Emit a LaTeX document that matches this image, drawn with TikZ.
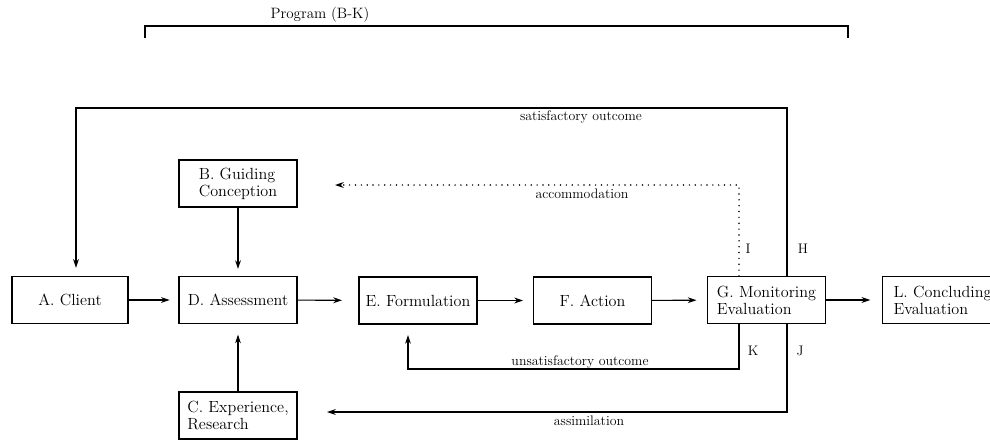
\documentclass[tikz,border=0pt]{standalone}
\usetikzlibrary{arrows.meta,calc}
\begin{document}
\begin{tikzpicture}[x=0.03cm,y=-0.03cm]
\tikzset{
 box/.style={draw, line width=0.9pt, minimum width=3.54cm, minimum height=1.41cm, inner sep=0pt, font=\fontsize{13.8}{14.5}\selectfont, align=left},
 conn/.style={line width=0.9pt, -{Stealth[length=7.5pt,width=5pt]}},
 plain/.style={line width=0.9pt},
 dots/.style={line width=1.4pt, line cap=round, dash pattern=on 0pt off 5pt, -{Stealth[length=7.5pt,width=5pt]}},
 lbl/.style={font=\fontsize{11.8}{12.5}\selectfont, inner sep=0pt},
}
\useasboundingbox (0,0) rectangle (990,443);
% bracket
\node[font=\fontsize{12.8}{13.5}\selectfont, inner sep=0pt] (prog) at (320,15) {Program (B-K)};
\coordinate (p1) at (145,38);
\coordinate (p2) at (145,26);
\coordinate (p3) at (848,26);
\coordinate (p4) at (848,38);
\draw[plain] (p1) -- (p2) -- (p3) -- (p4);
% boxes
\node[box, minimum width=3.48cm] (A) at (70,300) {A. Client};
\node[box] (B) at (238,183.5) {B. Guiding\\Conception};
\node[box] (C) at (238,415.5) {C. Experience,\\Research};
\node[box] (D) at (238,300) {D. Assessment};
\node[box] (E) at (418,300.5) {E. Formulation};
\node[box] (F) at (592.5,300.5) {F. Action};
\node[box] (G) at (766.5,300) {G. Monitoring\\Evaluation};
\node[box, minimum width=0pt, inner xsep=0.33cm, text width=3.6cm, anchor=west] (L) at (882,300) {L. Concluding\\Evaluation};
% main flow
\draw[conn, shorten >=7.5pt] (A) -- (D);
\draw[conn, shorten >=14pt] (D) -- (E);
\draw[conn, shorten >=8.5pt] (E) -- (F);
\draw[conn, shorten >=9pt] (F) -- (G);
\draw[conn, shorten >=10pt] (G) -- (L);
\draw[conn, shorten >=6pt] (B) -- (D);
\draw[conn, shorten >=9pt] (C) -- (D);
% satisfactory outcome loop (H)
\coordinate (h1) at (787,108);
\coordinate (h2) at (76,108);
\draw[conn, shorten >=7pt] (G.north -| h1) -- (h1) -- (h2) -- (A.north -| h2);
\node[lbl] (sat) at (581,117) {satisfactory outcome};
% accommodation (I)
\coordinate (i1) at (739,185);
\coordinate (i2) at (335,185);
\draw[dots] (G.north -| i1) -- (i1) -- (i2);
\node[lbl] (acc) at (582,194) {accommodation};
% unsatisfactory outcome (K)
\coordinate (k1) at (739,369);
\coordinate (k2) at (408,369);
\draw[conn, shorten >=9pt] (G.south -| k1) -- (k1) -- (k2) -- (E.south -| k2);
\node[lbl] (uns) at (580,362) {unsatisfactory outcome};
% assimilation (J)
\coordinate (j1) at (787,412);
\coordinate (j2) at (327,412);
\draw[conn] (G.south -| j1) -- (j1) -- (j2);
\node[lbl] (asm) at (589,421) {assimilation};
% letters
\node[lbl] (lI) at (748,249) {I};
\node[lbl] (lH) at (803,249) {H};
\node[lbl] (lK) at (753,351) {K};
\node[lbl] (lJ) at (800,351) {J};
\end{tikzpicture}
\end{document}
